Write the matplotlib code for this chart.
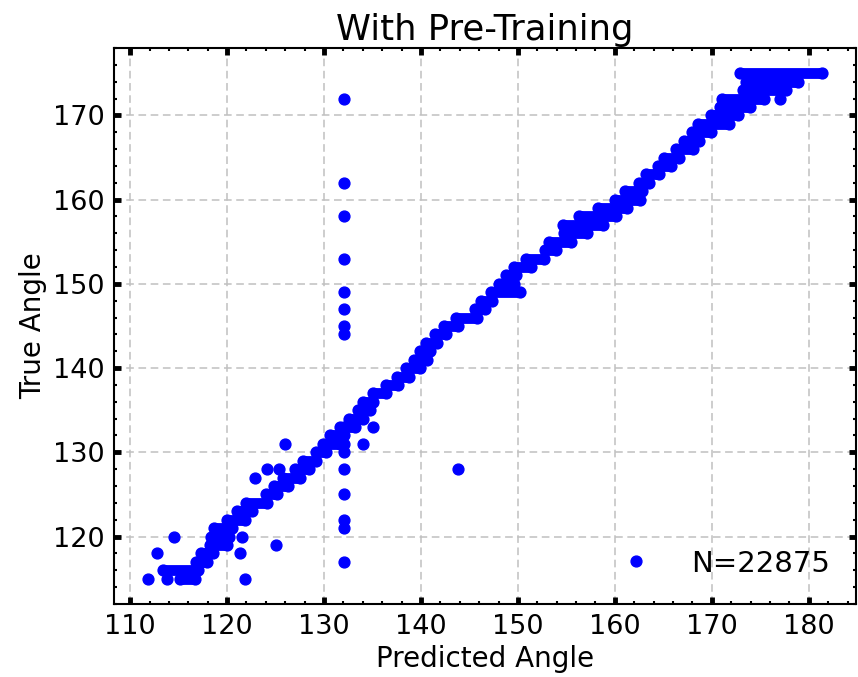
import matplotlib
matplotlib.use("Agg")
import matplotlib.pyplot as plt
from matplotlib.ticker import MultipleLocator

# dense diagonal: for each true angle, range of predicted angles covered by points
true_angle = list(range(115, 176))
pred_lo = [115.1, 113.4, 116.8, 117.3, 118.2, 118.3, 118.7, 120.0, 121.0, 122.0,
           124.0, 124.8, 125.8, 127.0, 127.8, 129.2, 129.9, 130.6, 131.6, 132.6,
           133.5, 134.0, 135.1, 136.4, 137.5, 138.5, 139.3, 139.9, 140.5, 141.4,
           142.4, 143.6, 145.6, 146.2, 147.2, 148.0, 148.8, 149.6, 150.8, 152.8,
           153.2, 154.8, 154.7, 156.3, 158.3, 160.0, 161.0, 162.5, 163.2, 164.4,
           165.1, 166.3, 167.1, 168.0, 168.6, 169.9, 170.8, 171.0, 173.2, 173.5,
           172.9]
pred_hi = [116.7, 117.0, 117.9, 118.5, 120.0, 120.2, 120.5, 121.9, 122.6, 124.1,
           125.1, 126.3, 127.5, 128.4, 129.2, 130.2, 131.6, 132.1, 133.2, 134.0,
           134.7, 135.1, 136.4, 137.6, 138.8, 139.9, 140.6, 140.9, 141.7, 142.6,
           143.8, 145.8, 146.6, 147.3, 150.2, 149.6, 149.8, 151.3, 152.7, 153.9,
           155.5, 157.1, 158.8, 160.1, 161.3, 162.6, 162.8, 163.5, 164.5, 165.8,
           166.6, 168.1, 168.7, 169.9, 171.8, 172.7, 173.9, 175.4, 177.6, 178.9,
           181.4]

# isolated points
pred_pts = [111.8, 113.8, 121.9, 112.8, 121.3, 125.0, 114.5, 121.5, 122.9, 124.1,
            125.4, 126.0, 134.0, 135.1, 143.8, 177.0,
            132.1, 132.1, 132.1, 132.1, 132.1, 132.1, 132.1, 132.1, 132.1, 132.1,
            132.1, 132.1, 132.1, 132.1, 132.1, 132.1]
true_pts = [115, 115, 115, 118, 118, 119, 120, 120, 127, 128,
            128, 131, 131, 133, 128, 172,
            172, 162, 158, 153, 149, 147, 145, 144, 133, 131,
            130, 128, 125, 122, 121, 117]

n_label = "N=22875"


def main():
    fig = plt.figure(figsize=(8.58, 6.77), dpi=100)
    ax = fig.add_axes([0.133, 0.108, 0.865, 0.821])

    ms = 7.8
    ax.hlines(true_angle, pred_lo, pred_hi, colors="blue", linewidth=ms,
              capstyle="round", zorder=3)
    ax.plot(pred_lo + pred_hi + pred_pts, true_angle + true_angle + true_pts,
            "o", color="blue", markersize=ms, label=n_label, zorder=3)

    ax.set_xlim(108.35, 184.9)
    ax.set_ylim(112.0, 178.0)
    ax.xaxis.set_major_locator(MultipleLocator(10))
    ax.yaxis.set_major_locator(MultipleLocator(10))
    ax.xaxis.set_minor_locator(MultipleLocator(2))
    ax.yaxis.set_minor_locator(MultipleLocator(2))
    ax.tick_params(which="both", direction="in", top=True, right=True)
    ax.tick_params(which="major", length=5, width=3.5, labelsize=19.5, pad=7)
    ax.tick_params(which="minor", length=2.5, width=1.5)
    for s in ax.spines.values():
        s.set_linewidth(1.5)

    ax.grid(True, which="major", linestyle="--", color="#c0c0c0", linewidth=1.1,
            dashes=(5, 3))
    ax.set_axisbelow(True)

    ax.set_xlabel("Predicted Angle", fontsize=20)
    ax.set_ylabel("True Angle", fontsize=20)
    ax.set_title("With Pre-Training", fontsize=25.5, pad=6)
    ax.legend(loc="lower right", frameon=False, fontsize=21, numpoints=1,
              handlelength=2.2)

    fig.savefig("out.png", dpi=100)


if __name__ == "__main__":
    main()
